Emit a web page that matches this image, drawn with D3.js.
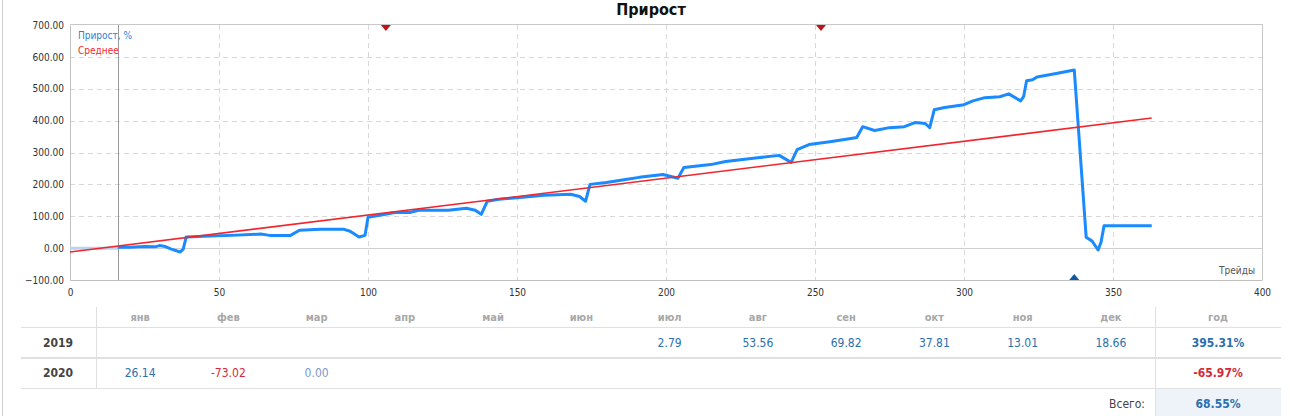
<!DOCTYPE html>
<html>
<head>
<meta charset="UTF-8">
<title>Прирост</title>
<style>
body { margin: 0; background: #fff; }
text { font-family: Tahoma, "DejaVu Sans Condensed", "DejaVu Sans", sans-serif; }
</style>
<script src="https://cdn.jsdelivr.net/npm/d3@7"></script>
</head>
<body>
<div id="chart"></div>
<script>
// данные кривой прироста (номер трейда -> %)
var trades = [16, 20, 25, 28.5, 30, 32, 34, 37, 38, 39, 47, 54, 64, 67, 74, 77, 84, 92, 94, 97, 99,
	100, 104, 109, 114, 117, 127, 133, 136, 138, 140, 144, 151, 159, 168, 171, 173, 174.5, 180, 187,
	191, 199, 204, 206, 215, 220, 231.5, 238, 242, 244, 248, 255, 262, 264, 266, 270, 275, 280,
	283.5, 287, 288.5, 290, 293.5, 300, 303, 307, 312, 315, 319, 320, 321, 323, 324.5, 330.5, 337,
	341, 343, 345, 346, 347, 363];
var growth = [3, 3, 5, 4, 8, 5, -3, -12, -3, 35, 38, 40, 44, 40, 40, 56, 59, 59, 53, 35, 40,
	97, 103, 112, 112, 119, 119, 125, 119, 106, 147, 153, 159, 166, 169, 162, 147, 200, 206, 216,
	222, 231, 219, 253, 262, 272, 284, 291, 269, 309, 325, 334, 344, 347, 381, 369, 378, 381,
	394, 391, 378, 434, 441, 450, 462, 472, 475, 484, 462, 475, 525, 528, 537, 547, 559,
	34, 22, -6, 19, 70, 70];
var preTrades = [0, 16];
var preGrowth = [0, 0];
var avgTrades = [0, 363];
var avgGrowth = [-12, 408];
var startTrade = 16;
var sellMarks = [106, 252];
var buyMarks = [337];
var yTicks = [-100, 0, 100, 200, 300, 400, 500, 600, 700];
var xTicks = [0, 50, 100, 150, 200, 250, 300, 350, 400];

// таблица по месяцам
var months = ['янв', 'фев', 'мар', 'апр', 'май', 'июн', 'июл', 'авг', 'сен', 'окт', 'ноя', 'дек'];
var years = ['2019', '2020'];
var vals2019 = [null, null, null, null, null, null, 2.79, 53.56, 69.82, 37.81, 13.01, 18.66];
var vals2020 = [26.14, -73.02, 0.00, null, null, null, null, null, null, null, null, null];
var yearTotals = [395.31, -65.97];
var grandTotal = 68.55;

var W = 1290, H = 416;
var m = { left: 70, right: 1262, top: 25, bottom: 280 };

var svg = d3.select('#chart').append('svg')
	.attr('width', W).attr('height', H);

// рамка страницы
svg.append('line').attr('x1', 2.5).attr('x2', 2.5).attr('y1', 0).attr('y2', H)
	.attr('stroke', '#d0d0d0');

var x = d3.scaleLinear().domain([0, 400]).range([m.left, m.right]);
var y = d3.scaleLinear().domain([-100, 700]).range([m.bottom, m.top]);

// заголовок
svg.append('text').attr('x', 651).attr('y', 15)
	.attr('text-anchor', 'middle').attr('font-weight', 'bold')
	.attr('font-size', '16px').attr('fill', '#111').text('Прирост');

// сетка
svg.append('g').selectAll('line').data(yTicks.filter(function(d) { return d > -100 && d < 700 && d != 0; }))
	.enter().append('line')
	.attr('x1', m.left).attr('x2', m.right)
	.attr('y1', function(d) { return Math.round(y(d)) + 0.5; })
	.attr('y2', function(d) { return Math.round(y(d)) + 0.5; })
	.attr('stroke', '#d8d8d8').attr('stroke-dasharray', '5,4');
svg.append('g').selectAll('line').data(xTicks.filter(function(d) { return d > 0 && d < 400; }))
	.enter().append('line')
	.attr('y1', m.top).attr('y2', m.bottom)
	.attr('x1', function(d) { return Math.round(x(d)) + 0.5; })
	.attr('x2', function(d) { return Math.round(x(d)) + 0.5; })
	.attr('stroke', '#d8d8d8').attr('stroke-dasharray', '5,4');

// нулевая линия
svg.append('line').attr('x1', m.left).attr('x2', m.right)
	.attr('y1', Math.round(y(0)) + 0.5).attr('y2', Math.round(y(0)) + 0.5)
	.attr('stroke', '#d0d0d0');

// рамка графика
svg.append('line').attr('x1', m.left).attr('x2', m.right + 1).attr('y1', m.top - 0.5).attr('y2', m.top - 0.5)
	.attr('stroke', '#c8c8c8');
svg.append('line').attr('x1', m.right + 0.5).attr('x2', m.right + 0.5).attr('y1', m.top).attr('y2', m.bottom)
	.attr('stroke', '#c8c8c8');

// оси
var yAxis = d3.axisLeft(y).tickValues(yTicks).tickSize(0).tickPadding(6)
	.tickFormat(function(d) { return d3.format('.2f')(d); });
var gy = svg.append('g').attr('transform', 'translate(' + m.left + ',0)').call(yAxis);
gy.select('.domain').attr('stroke', '#c0c0c0');
gy.selectAll('text').attr('font-size', '10px').attr('fill', '#333')
	.style('font-family', 'Tahoma, "DejaVu Sans Condensed", "DejaVu Sans", sans-serif');

var xAxis = d3.axisBottom(x).tickValues(xTicks).tickSize(0).tickPadding(9);
var gx = svg.append('g').attr('transform', 'translate(0,' + m.bottom + ')').call(xAxis);
gx.select('.domain').attr('stroke', '#c0c0c0');
gx.selectAll('text').attr('font-size', '10px').attr('fill', '#333')
	.style('font-family', 'Tahoma, "DejaVu Sans Condensed", "DejaVu Sans", sans-serif');

svg.append('text').attr('x', 1255).attr('y', 274).attr('text-anchor', 'end')
	.attr('font-size', '10px').attr('fill', '#555').text('Трейды');

// вертикаль начала
svg.append('line').attr('x1', Math.round(x(startTrade)) + 0.5).attr('x2', Math.round(x(startTrade)) + 0.5)
	.attr('y1', m.top).attr('y2', m.bottom).attr('stroke', '#999');

// линии
var line = d3.line().x(function(d) { return x(d[0]); }).y(function(d) { return y(d[1]); });
svg.append('path').datum(d3.zip(preTrades, preGrowth)).attr('d', line)
	.attr('fill', 'none').attr('stroke', '#b8d4ee').attr('stroke-width', 3);
svg.append('path').datum(d3.zip(trades, growth)).attr('d', line)
	.attr('fill', 'none').attr('stroke', '#1a8aff').attr('stroke-width', 3)
	.attr('stroke-linejoin', 'round');
svg.append('path').datum(d3.zip(avgTrades, avgGrowth)).attr('d', line)
	.attr('fill', 'none').attr('stroke', '#f0262e').attr('stroke-width', 1.6);

// маркеры
svg.selectAll('.sell').data(sellMarks).enter().append('path')
	.attr('d', function(d) { var cx = x(d); return 'M' + (cx - 5) + ',' + m.top + 'L' + (cx + 5) + ',' + m.top + 'L' + cx + ',' + (m.top + 6) + 'Z'; })
	.attr('fill', '#c0141c');
svg.selectAll('.buy').data(buyMarks).enter().append('path')
	.attr('d', function(d) { var cx = x(d); return 'M' + (cx - 5) + ',' + m.bottom + 'L' + (cx + 5) + ',' + m.bottom + 'L' + cx + ',' + (m.bottom - 6) + 'Z'; })
	.attr('fill', '#0f5aa0');

// легенда
svg.append('text').attr('x', 78).attr('y', 39).attr('font-size', '10px').attr('fill', '#2a7fe0').text('Прирост, %');
svg.append('text').attr('x', 78).attr('y', 54).attr('font-size', '10px').attr('fill', '#ee2a30').text('Среднее');

// таблица
var tx = d3.scaleBand().domain(months).range([96, 1155]);
var tbl = svg.append('g');
var rowY = [343, 373];
var lineCol = '#e0e0e0';

tbl.append('rect').attr('x', 1155).attr('y', 389).attr('width', 126).attr('height', 27).attr('fill', '#eef3fa');
tbl.append('line').attr('x1', 21).attr('x2', 1281).attr('y1', 327.5).attr('y2', 327.5).attr('stroke', lineCol);
tbl.append('line').attr('x1', 21).attr('x2', 1281).attr('y1', 358).attr('y2', 358).attr('stroke', lineCol).attr('stroke-width', 2);
tbl.append('line').attr('x1', 21).attr('x2', 1281).attr('y1', 388.5).attr('y2', 388.5).attr('stroke', lineCol);
tbl.append('line').attr('x1', 96.5).attr('x2', 96.5).attr('y1', 307).attr('y2', 388).attr('stroke', lineCol);
tbl.append('line').attr('x1', 1155.5).attr('x2', 1155.5).attr('y1', 307).attr('y2', 416).attr('stroke', lineCol);

tbl.selectAll('.mh').data(months).enter().append('text')
	.attr('x', function(d) { return tx(d) + tx.bandwidth() / 2; }).attr('y', 321)
	.attr('text-anchor', 'middle').attr('font-size', '11px').attr('font-weight', 'bold')
	.attr('fill', '#a8a8a8').text(function(d) { return d; });
tbl.append('text').attr('x', 1218).attr('y', 321).attr('text-anchor', 'middle')
	.attr('font-size', '11px').attr('font-weight', 'bold').attr('fill', '#a8a8a8').text('год');

function valColor(v) { return v > 0 ? '#2a70b0' : (v < 0 ? '#d42a3a' : '#7a98c8'); }

[vals2019, vals2020].forEach(function(row, i) {
	tbl.append('text').attr('x', 58).attr('y', rowY[i] + 4).attr('text-anchor', 'middle')
		.attr('font-size', '12px').attr('font-weight', 'bold').attr('fill', '#444').text(years[i]);
	tbl.selectAll('.r' + i).data(row.map(function(v, j) { return { v: v, m: months[j] }; })
		.filter(function(d) { return d.v !== null; }))
		.enter().append('text')
		.attr('x', function(d) { return tx(d.m) + tx.bandwidth() / 2; }).attr('y', rowY[i] + 4)
		.attr('text-anchor', 'middle').attr('font-size', '12px')
		.attr('fill', function(d) { return valColor(d.v); })
		.text(function(d) { return d.v.toFixed(2); });
	tbl.append('text').attr('x', 1218).attr('y', rowY[i] + 4).attr('text-anchor', 'middle')
		.attr('font-size', '12px').attr('font-weight', 'bold').attr('fill', valColor(yearTotals[i]))
		.text(yearTotals[i].toFixed(2) + '%');
});
tbl.append('text').attr('x', 1145).attr('y', 408).attr('text-anchor', 'end')
	.attr('font-size', '12px').attr('fill', '#444').text('Всего:');
tbl.append('text').attr('x', 1218).attr('y', 408).attr('text-anchor', 'middle')
	.attr('font-size', '12px').attr('font-weight', 'bold').attr('fill', valColor(grandTotal))
	.text(grandTotal.toFixed(2) + '%');
</script>
</body>
</html>
